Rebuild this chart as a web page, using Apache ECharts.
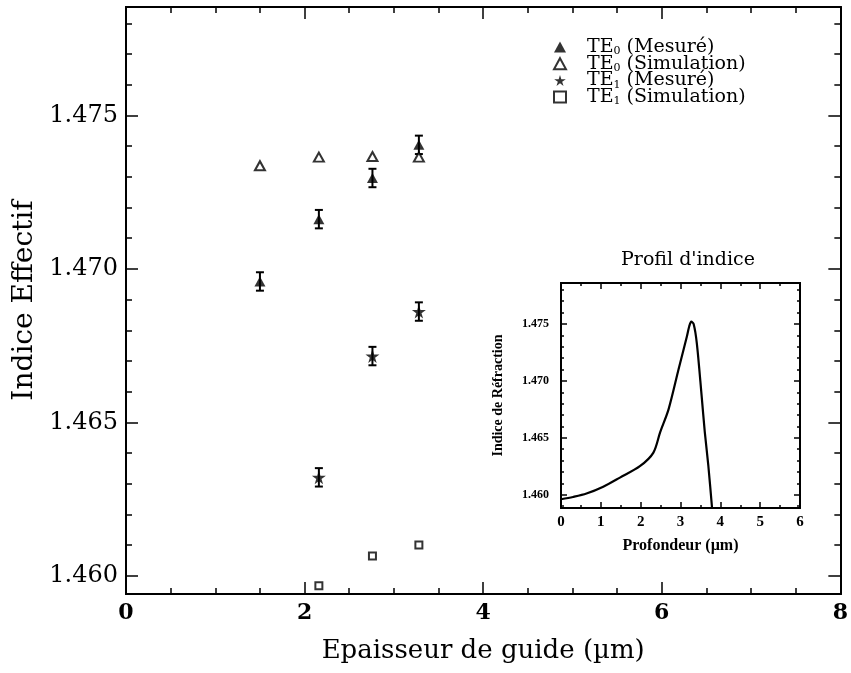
<!DOCTYPE html>
<html>
<head>
<meta charset="utf-8">
<script src="https://cdn.jsdelivr.net/npm/echarts@6/dist/echarts.min.js"></script>
<style>html,body{margin:0;padding:0;background:#fff}#c{width:851px;height:673px}</style>
</head>
<body>
<div id="c"></div>
<script>
// ---- data ----
const thickness = [1.5, 2.16, 2.76, 3.28];
const te0Measured = [1.46959, 1.47162, 1.47296, 1.47404];
const te0Simulation = [1.47336, 1.47364, 1.47366, 1.47364];
const te1ThicknessMeasured = [2.16, 2.76, 3.28];
const te1Measured = [1.46321, 1.46716, 1.46861];
const te1ThicknessSim = [2.16, 2.76, 3.28];
const te1Simulation = [1.45968, 1.46065, 1.46101];
const errHalf = 0.0003;
const mainYTicks = [1.460, 1.465, 1.470, 1.475];
const mainYMinor = [1.461,1.462,1.463,1.464,1.466,1.467,1.468,1.469,1.471,1.472,1.473,1.474,1.476,1.477,1.478];
const insetDepth = [0, 0.3, 0.64, 1.06, 1.48, 1.98, 2.32, 2.49, 2.70, 2.95, 3.16, 3.22, 3.27, 3.33, 3.41, 3.53, 3.61, 3.70, 3.80];
const insetIndex = [1.4596, 1.4598, 1.4601, 1.4607, 1.4615, 1.4625, 1.4637, 1.4655, 1.4675, 1.4710, 1.4739, 1.4748, 1.4752, 1.4750, 1.4733, 1.4687, 1.4655, 1.4625, 1.4585];
const insetYTicks = [1.460, 1.465, 1.470, 1.475];
const insetYMinor = [1.459,1.461,1.462,1.463,1.464,1.466,1.467,1.468,1.469,1.471,1.472,1.473,1.474,1.476,1.477,1.478];
const names = ['TE0 (Mesuré)', 'TE0 (Simulation)', 'TE1 (Mesuré)', 'TE1 (Simulation)'];

const SERIF = 'Liberation Serif';
const WIDE = 'DejaVu Serif';
const star = 'path://M50,0 L61,35 L98,35 L68,57 L79,91 L50,70 L21,91 L32,57 L2,35 L39,35 Z';

function zip(xs, ys) { return xs.map((x, i) => [x, ys[i]]); }
function errData(xs, ys) { return xs.map((x, i) => [x, ys[i] - errHalf, ys[i] + errHalf]); }

const errRender = function (params, api) {
  const x = api.value(0);
  const lo = api.coord([x, api.value(1)]);
  const hi = api.coord([x, api.value(2)]);
  const w = 4;
  const st = { stroke: '#000', lineWidth: 2 };
  return {
    type: 'group',
    children: [
      { type: 'line', shape: { x1: lo[0], y1: lo[1], x2: hi[0], y2: hi[1] }, style: st },
      { type: 'line', shape: { x1: lo[0] - w, y1: lo[1], x2: lo[0] + w, y2: lo[1] }, style: st },
      { type: 'line', shape: { x1: hi[0] - w, y1: hi[1], x2: hi[0] + w, y2: hi[1] }, style: st }
    ]
  };
};

const axLine = { lineStyle: { color: '#000', width: 2 } };
const MAIN_YMIN = 1.45941, MAIN_YMAX = 1.47853;
const IN_YMIN = 1.45883, IN_YMAX = 1.4786;

function mainY(pos, vals, len, labels) {
  return {
    type: 'value', gridIndex: 0, position: pos, min: MAIN_YMIN, max: MAIN_YMAX,
    axisLine: axLine, splitLine: { show: false },
    axisTick: { inside: true, length: len, lineStyle: { color: '#000', width: 1.5 }, customValues: vals },
    axisLabel: labels ? { show: true, customValues: vals, formatter: v => v.toFixed(3), fontFamily: WIDE, fontSize: 24, color: '#000', margin: 8 } : { show: false }
  };
}
function insetY(pos, vals, len, labels) {
  return {
    type: 'value', gridIndex: 1, position: pos, min: IN_YMIN, max: IN_YMAX,
    axisLine: axLine, splitLine: { show: false },
    axisTick: { inside: true, length: len, lineStyle: { color: '#000', width: 1.5 }, customValues: vals },
    axisLabel: labels ? { show: true, customValues: vals, formatter: v => v.toFixed(3), fontFamily: SERIF, fontWeight: 'bold', fontSize: 12, color: '#000', margin: 12 } : { show: false }
  };
}

const yAxes = [
  Object.assign(mainY('left', mainYTicks, 12, true), {
    name: 'Indice Effectif', nameLocation: 'middle', nameGap: 76,
    nameTextStyle: { fontFamily: WIDE, fontSize: 28, color: '#000' }
  }),
  mainY('left', mainYMinor, 6, false),
  mainY('right', mainYTicks, 12, false),
  mainY('right', mainYMinor, 6, false),
  Object.assign(insetY('left', insetYTicks, 6, true), {
    name: 'Indice de Réfraction', nameLocation: 'middle', nameGap: 56,
    nameTextStyle: { fontFamily: SERIF, fontWeight: 'bold', fontSize: 14, color: '#000' }
  }),
  insetY('left', insetYMinor, 3, false),
  insetY('right', insetYTicks, 6, false),
  insetY('right', insetYMinor, 3, false)
];

const xAxes = [
  {
    type: 'value', gridIndex: 0, position: 'bottom', min: 0, max: 8, interval: 2,
    axisLine: axLine, splitLine: { show: false },
    axisTick: { inside: true, length: 12, lineStyle: { color: '#000', width: 1.5 } },
    minorTick: { show: true, splitNumber: 4, length: 6, lineStyle: { color: '#000', width: 1.5 } },
    axisLabel: { fontFamily: WIDE, fontWeight: 'bold', fontSize: 22, color: '#000', margin: 8 },
    name: 'Epaisseur de guide (µm)', nameLocation: 'middle', nameGap: 44,
    nameTextStyle: { fontFamily: WIDE, fontSize: 26, color: '#000' }
  },
  {
    type: 'value', gridIndex: 0, position: 'top', min: 0, max: 8, interval: 2,
    axisLine: axLine, splitLine: { show: false },
    axisTick: { inside: true, length: 12, lineStyle: { color: '#000', width: 1.5 } },
    minorTick: { show: true, splitNumber: 4, length: 6, lineStyle: { color: '#000', width: 1.5 } },
    axisLabel: { show: false }
  },
  {
    type: 'value', gridIndex: 1, position: 'bottom', min: 0, max: 6, interval: 1,
    axisLine: axLine, splitLine: { show: false },
    axisTick: { inside: true, length: 6, lineStyle: { color: '#000', width: 1.5 } },
    minorTick: { show: true, splitNumber: 2, length: 3, lineStyle: { color: '#000', width: 1.5 } },
    axisLabel: { fontFamily: SERIF, fontWeight: 'bold', fontSize: 15, color: '#000', margin: 7 },
    name: 'Profondeur (µm)', nameLocation: 'middle', nameGap: 30,
    nameTextStyle: { fontFamily: SERIF, fontWeight: 'bold', fontSize: 16, color: '#000' }
  },
  {
    type: 'value', gridIndex: 1, position: 'top', min: 0, max: 6, interval: 1,
    axisLine: axLine, splitLine: { show: false },
    axisTick: { inside: true, length: 6, lineStyle: { color: '#000', width: 1.5 } },
    minorTick: { show: true, splitNumber: 2, length: 3, lineStyle: { color: '#000', width: 1.5 } },
    axisLabel: { show: false }
  }
];

const legendFmt = {
  'TE0 (Mesuré)': 'TE{s|0} (Mesuré)',
  'TE0 (Simulation)': 'TE{s|0} (Simulation)',
  'TE1 (Mesuré)': 'TE{s|1} (Mesuré)',
  'TE1 (Simulation)': 'TE{s|1} (Simulation)'
};

const option = {
  animation: false,
  backgroundColor: '#fff',
  title: {
    text: "Profil d'indice", left: 683, top: 246, textAlign: 'center',
    textStyle: { fontFamily: WIDE, fontWeight: 'normal', fontSize: 19, color: '#000' }
  },
  legend: {
    data: names, orient: 'vertical', left: 548, top: 32, itemWidth: 12, itemHeight: 11, itemGap: -3.3,
    formatter: n => legendFmt[n],
    textStyle: {
      fontFamily: WIDE, fontSize: 19, lineHeight: 20, color: '#000', padding: [0, 0, 0, 16],
      rich: { s: { fontFamily: WIDE, fontSize: 11, lineHeight: 12, verticalAlign: 'bottom', color: '#000' } }
    }
  },
  grid: [
    { left: 126, right: 6, top: 7, bottom: 79 },
    { left: 561, top: 283, width: 239, height: 225 }
  ],
  xAxis: xAxes,
  yAxis: yAxes,
  series: [
    { type: 'custom', xAxisIndex: 0, yAxisIndex: 0, renderItem: errRender, data: errData(thickness, te0Measured), z: 2 },
    { type: 'custom', xAxisIndex: 0, yAxisIndex: 0, renderItem: errRender, data: errData(te1ThicknessMeasured, te1Measured), z: 2 },
    { name: names[0], type: 'scatter', xAxisIndex: 0, yAxisIndex: 0, symbol: 'triangle', symbolSize: [11, 10],
      itemStyle: { color: '#000' }, data: zip(thickness, te0Measured), z: 3 },
    { name: names[1], type: 'scatter', xAxisIndex: 0, yAxisIndex: 0, symbol: 'triangle', symbolSize: [10, 9],
      itemStyle: { color: '#fff', borderColor: '#000', borderWidth: 2 }, data: zip(thickness, te0Simulation), z: 3 },
    { name: names[2], type: 'scatter', xAxisIndex: 0, yAxisIndex: 0, symbol: star, symbolSize: 14,
      itemStyle: { color: '#000' }, data: zip(te1ThicknessMeasured, te1Measured), z: 3 },
    { name: names[3], type: 'scatter', xAxisIndex: 0, yAxisIndex: 0, symbol: 'rect', symbolSize: 7,
      itemStyle: { color: '#fff', borderColor: '#000', borderWidth: 2 }, data: zip(te1ThicknessSim, te1Simulation), z: 3 },
    { type: 'line', xAxisIndex: 2, yAxisIndex: 4, showSymbol: false, symbol: 'none', smooth: 0.3,
      lineStyle: { color: '#000', width: 2.2 }, data: zip(insetDepth, insetIndex), clip: true }
  ]
};

const chart = echarts.init(document.getElementById('c'), null, { renderer: 'canvas' });
chart.setOption(option);
</script>
</body>
</html>
